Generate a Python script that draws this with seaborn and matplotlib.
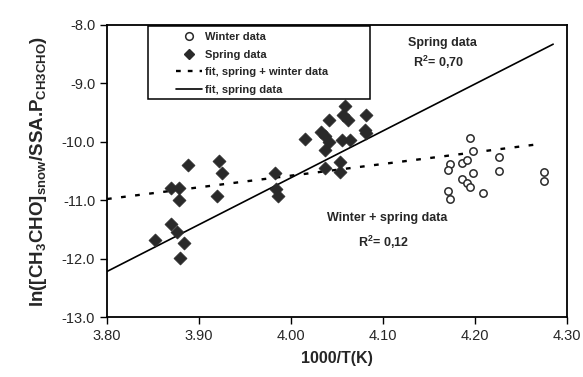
import matplotlib
matplotlib.use("Agg")
import matplotlib.pyplot as plt
import seaborn as sns
import numpy as np
import pandas as pd
from matplotlib.lines import Line2D
from matplotlib.patches import Rectangle

# spring data (filled diamonds)
spring_x = [3.852, 3.870, 3.876, 3.884, 3.879, 3.870, 3.878, 3.878, 3.888,
            3.922, 3.925, 3.920, 3.983, 3.984, 3.986,
            4.015, 4.033, 4.037, 4.041, 4.037, 4.041, 4.059, 4.057, 4.062,
            4.055, 4.064, 4.082, 4.080, 4.082, 4.037, 4.053, 4.053]
spring_y = [-11.68, -11.40, -11.54, -11.74, -11.99, -10.79, -10.79, -11.00, -10.39,
            -10.33, -10.53, -10.92, -10.54, -10.80, -10.93,
            -9.96, -9.83, -9.91, -10.00, -10.14, -9.63, -9.39, -9.54, -9.63,
            -9.97, -9.97, -9.54, -9.80, -9.85, -10.45, -10.34, -10.51]

# winter data (open circles)
winter_x = [4.195, 4.198, 4.226, 4.226, 4.173, 4.171, 4.186, 4.191, 4.198,
            4.186, 4.191, 4.195, 4.209, 4.171, 4.173, 4.275, 4.275]
winter_y = [-9.94, -10.16, -10.26, -10.50, -10.38, -10.49, -10.37, -10.31, -10.53,
            -10.63, -10.71, -10.77, -10.87, -10.84, -10.98, -10.51, -10.68]

# fitted lines as printed: slope, intercept, x extent
fit_all = [2.0, -18.58]
fit_all_x = [3.80, 4.27]
fit_spring = [8.02, -42.696]
fit_spring_x = [3.80, 4.285]

x_ticks = [3.80, 3.90, 4.00, 4.10, 4.20, 4.30]
y_ticks = [-13.0, -12.0, -11.0, -10.0, -9.0, -8.0]

sns.set_style("ticks")
plt.rcParams['font.family'] = ['Liberation Sans', 'DejaVu Sans']
plt.rcParams['mathtext.fontset'] = 'custom'
plt.rcParams['mathtext.rm'] = 'Liberation Sans:bold'
plt.rcParams['mathtext.it'] = 'Liberation Sans:bold'
plt.rcParams['mathtext.bf'] = 'Liberation Sans:bold'

fig = plt.figure(figsize=(5.83, 3.77), dpi=100)
ax = fig.add_axes([0.1835, 0.159, 0.789, 0.775])

ink = "#2a2a2a"
sns.scatterplot(x=spring_x, y=spring_y, marker="D", s=44, color=ink,
                edgecolor=ink, linewidth=0.5, ax=ax, zorder=3)
sns.scatterplot(x=winter_x, y=winter_y, marker="o", s=28, facecolor="white",
                edgecolor=ink, linewidth=1.1, ax=ax, zorder=3)

xa = np.array(fit_all_x)
ax.plot(xa, fit_all[0] * xa + fit_all[1], color="black", lw=1.7,
        linestyle=(0, (2, 4)))
xs = np.array(fit_spring_x)
ax.plot(xs, fit_spring[0] * xs + fit_spring[1], color="black", lw=1.2)

ax.set_xlim(3.80, 4.30)
ax.set_ylim(-13.0, -8.0)
ax.set_xticks(x_ticks)
ax.set_xticklabels([f"{v:.2f}" for v in x_ticks])
ax.set_yticks(y_ticks)
ax.set_yticklabels([f"{v:.1f}" for v in y_ticks])
ax.tick_params(labelsize=10.5, length=5, width=1, color="black", direction="out")
for sp in ax.spines.values():
    sp.set_visible(True)
    sp.set_color("black")
    sp.set_linewidth(1.3)

ax.set_xlabel("1000/T(K)", fontsize=11.5, fontweight="bold", labelpad=6)
ax.set_ylabel(r"ln([CH$_3$CHO]$_{snow}$/SSA.P$_{CH3CHO}$)", fontsize=13.5,
              fontweight="bold", labelpad=9)

# legend box
ax.add_patch(Rectangle((0.089, 0.747), 0.483, 0.25, transform=ax.transAxes,
                       fill=False, edgecolor="black", lw=1.1, zorder=4))
handles = [
    Line2D([], [], marker="o", ls="none", markersize=5.5, markerfacecolor="white",
           markeredgecolor=ink, markeredgewidth=1.1),
    Line2D([], [], marker="D", ls="none", markersize=5.5, color=ink),
    Line2D([], [], color="black", lw=1.7, linestyle=(0, (2, 3))),
    Line2D([], [], color="black", lw=1.2),
]
labels = ["Winter data", "Spring data", "fit, spring + winter data", "fit, spring data"]
leg = ax.legend(handles, labels, loc="upper left", bbox_to_anchor=(0.150, 0.975),
                frameon=False, prop={"size": 8, "weight": "bold"},
                handlelength=2.3, handletextpad=0.35, labelspacing=0.68,
                borderaxespad=0, borderpad=0)

ax.text(4.165, -8.36, "Spring data", fontsize=9, fontweight="bold", ha="center")
ax.text(4.16, -8.72, r"R$^2$= 0,70", fontsize=9, fontweight="bold", ha="center")
ax.text(4.105, -11.36, "Winter + spring data", fontsize=9, fontweight="bold", ha="center")
ax.text(4.10, -11.80, r"R$^2$= 0,12", fontsize=9, fontweight="bold", ha="center")

fig.savefig("out.png", dpi=100)
